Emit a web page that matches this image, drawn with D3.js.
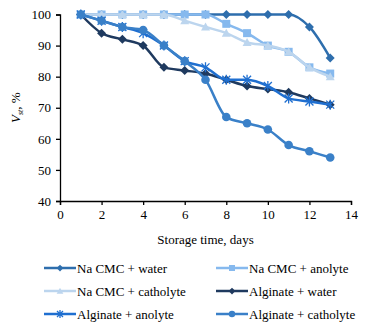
<!DOCTYPE html>
<html><head><meta charset="utf-8">
<script src="https://cdn.jsdelivr.net/npm/d3@7"></script>
<style>body{margin:0;background:#fff}svg{display:block}</style>
</head><body>
<svg id="c" width="370" height="331"></svg>
<script>
const days = [1,2,3,4,5,6,7,8,9,10,11,12,13];
const naCmcWater      = [100,100,100,100,100,100,100,100,100,100,100,96,86];
const naCmcAnolyte    = [100,100,100,100,100,100,100,97,94,90,88,83,81];
const naCmcCatholyte  = [100,100,100,100,100,98,96,94,91,90,88,83,80];
const alginateWater   = [100,94,92,90,83,82,81,79,77,76,75,73,71];
const alginateAnolyte = [100,98,96,94,90,85,83,79,79,77,73,72,71];
const alginateCatholyte=[100,98,96,95,90,85,79,67,65,63,58,56,54];
const seriesNames = ["Na CMC + water","Na CMC + anolyte","Na CMC + catholyte","Alginate + water","Alginate + anolyte","Alginate + catholyte"];
const xTicks = [0,2,4,6,8,10,12,14];
const yTicks = [40,50,60,70,80,90,100];

const series = [
  {name:seriesNames[0], values:naCmcWater, color:"#2E6EAD", marker:"diamond"},
  {name:seriesNames[1], values:naCmcAnolyte, color:"#86B9EE", marker:"square"},
  {name:seriesNames[2], values:naCmcCatholyte, color:"#BCD5EE", marker:"triangle"},
  {name:seriesNames[3], values:alginateWater, color:"#1F3A5F", marker:"diamond"},
  {name:seriesNames[4], values:alginateAnolyte, color:"#1F6FD0", marker:"star"},
  {name:seriesNames[5], values:alginateCatholyte, color:"#3A80C8", marker:"circle"}
];

const FF = "'Liberation Serif', 'Times New Roman', Times, 'DejaVu Serif', serif";
const svg = d3.select("#c");
const x = d3.scaleLinear().domain([0,14]).range([60,351]);
const y = d3.scaleLinear().domain([40,100]).range([201,14.5]);

const fs = 13;
const xAxis = svg.append("g").attr("transform","translate(0,201)")
  .call(d3.axisBottom(x).tickValues(xTicks).tickSize(4).tickPadding(5));
const yAxis = svg.append("g").attr("transform","translate(60,0)")
  .call(d3.axisLeft(y).tickValues(yTicks).tickSize(4).tickPadding(5));
[xAxis,yAxis].forEach(a=>{
  a.attr("font-family",FF).attr("font-size",fs);
  a.select(".domain").attr("stroke","#000").attr("stroke-width",1.3);
  a.selectAll(".tick line").attr("stroke","#000").attr("stroke-width",1.3);
  a.selectAll("text").attr("fill","#000").attr("font-family",FF);
});

svg.append("text").attr("x",x(7)).attr("y",244).attr("text-anchor","middle")
  .attr("font-family",FF).attr("font-size",fs).text("Storage time, days");
const yl = svg.append("text").attr("transform",`translate(20,${y(70)}) rotate(-90)`)
  .attr("text-anchor","middle").attr("font-family",FF).attr("font-size",fs);
yl.append("tspan").attr("font-style","italic").text("V");
yl.append("tspan").attr("font-size",8).attr("dy",3).attr("font-style","italic").text("st");
yl.append("tspan").attr("dy",-3).text(", %");

function drawMarker(g, type, cx, cy, color, k){
  k = k || 1;
  if(type==="diamond"){
    const r=4.5*k;
    g.append("path").attr("d",`M${cx},${cy-r}L${cx+r},${cy}L${cx},${cy+r}L${cx-r},${cy}Z`).attr("fill",color);
  } else if(type==="square"){
    const r=4*k;
    g.append("rect").attr("x",cx-r).attr("y",cy-r).attr("width",2*r).attr("height",2*r).attr("fill",color);
  } else if(type==="triangle"){
    const r=4.5*k;
    g.append("path").attr("d",`M${cx},${cy-r}L${cx+r},${cy+r*0.8}L${cx-r},${cy+r*0.8}Z`).attr("fill",color);
  } else if(type==="circle"){
    g.append("circle").attr("cx",cx).attr("cy",cy).attr("r",4.3*k).attr("fill",color);
  } else if(type==="star"){
    const r=4*k;
    g.append("path").attr("d",`M${cx-r},${cy-r}L${cx+r},${cy+r}M${cx-r},${cy+r}L${cx+r},${cy-r}M${cx},${cy-r-1}L${cx},${cy+r+1}`)
      .attr("stroke",color).attr("stroke-width",1.3).attr("fill","none");
  }
}

const line = d3.line().x((d,i)=>x(days[i])).y(d=>y(d)).curve(d3.curveMonotoneX);
series.forEach(s=>{
  const g = svg.append("g");
  g.append("path").datum(s.values).attr("d",line).attr("fill","none")
    .attr("stroke",s.color).attr("stroke-width",2.5);
  s.values.forEach((v,i)=>drawMarker(g,s.marker,x(days[i]),y(v),s.color));
});

// legend
const legRows=[268,291,314], legCols=[44,216];
series.forEach((s,i)=>{
  const lx = legCols[i%2], ly = legRows[Math.floor(i/2)];
  const g = svg.append("g");
  g.append("line").attr("x1",lx).attr("x2",lx+32).attr("y1",ly).attr("y2",ly)
    .attr("stroke",s.color).attr("stroke-width",2.5);
  drawMarker(g,s.marker,lx+16,ly,s.color,0.75);
  g.append("text").attr("x",lx+33).attr("y",ly+4.5).attr("font-family",FF).attr("font-size",fs).text(s.name);
});
</script>
</body></html>
